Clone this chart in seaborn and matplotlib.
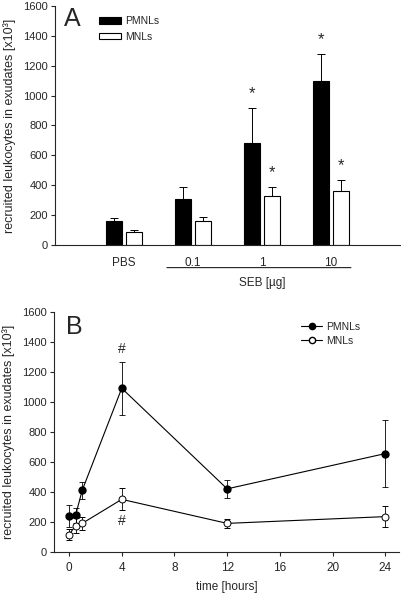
import matplotlib
matplotlib.use("Agg")
import matplotlib.pyplot as plt
import seaborn as sns
import pandas as pd

# panel A: dose response
doses = ["PBS", "0.1", "1", "10"]
pmnl_dose = [160, 310, 685, 1100]
pmnl_dose_err = [20, 75, 230, 178]
mnl_dose = [88, 158, 328, 358]
mnl_dose_err = [12, 30, 60, 75]
star_pmnl = [False, False, True, True]
star_mnl = [False, False, True, True]

# panel B: time course
hours = [0, 0.5, 1, 4, 12, 24]
pmnl_time = [240, 245, 410, 1090, 420, 655]
pmnl_time_err = [73, 50, 55, 178, 60, 222]
mnl_time = [115, 175, 190, 350, 190, 235]
mnl_time_err = [35, 48, 43, 73, 30, 72]

cells = ["PMNLs", "MNLs"]
ylabel = "recruited leukocytes in exudates [x10\u00b3]"

sns.set_style("ticks")
plt.rcParams["font.family"] = ["Liberation Sans", "DejaVu Sans"]
plt.rcParams["axes.linewidth"] = 0.8
plt.rcParams["xtick.major.width"] = 0.8
plt.rcParams["ytick.major.width"] = 0.8
plt.rcParams["xtick.major.size"] = 3
plt.rcParams["ytick.major.size"] = 3

TICK = 8
LEG = 7.5
LAB = 9

fig = plt.figure(figsize=(4.02, 5.96), dpi=100)
ax1 = fig.add_axes([0.137, 0.589, 0.858, 0.401])
ax2 = fig.add_axes([0.134, 0.074, 0.859, 0.403])

# ---- panel A
dose_df = pd.DataFrame({
    "dose": doses * 2,
    "cells": [cells[0]] * 4 + [cells[1]] * 4,
    "value": pmnl_dose + mnl_dose,
})
sns.barplot(data=dose_df, x="dose", y="value", hue="cells", order=doses,
            hue_order=cells, palette=["black", "white"], width=0.6, gap=0.23,
            edgecolor="black", linewidth=0.8, errorbar=None, ax=ax1)

errs = [pmnl_dose_err, mnl_dose_err]
stars = [star_pmnl, star_mnl]
for cont, err, star in zip(ax1.containers, errs, stars):
    for bar, e, s in zip(cont, err, star):
        xc = bar.get_x() + bar.get_width() / 2
        h = bar.get_height()
        ax1.errorbar(xc, h, yerr=[[0], [e]], fmt="none", ecolor="black",
                     elinewidth=0.7, capsize=3, capthick=0.7, zorder=1)
        if s:
            ax1.text(xc, h + e + 45, "*", ha="center", va="bottom",
                     fontsize=12)

ax1.set_xlim(-1, 4)
ax1.set_ylim(0, 1600)
ax1.set_yticks(range(0, 1601, 200))
ax1.tick_params(axis="y", labelsize=TICK, pad=2)
ax1.tick_params(axis="x", length=0, labelsize=8.5, pad=9)
ax1.set_xlabel("")
ax1.set_ylabel(ylabel, fontsize=LAB, labelpad=5)
sns.despine(ax=ax1)
ax1.legend(loc="upper left", bbox_to_anchor=(0.115, 0.975), frameon=False,
           fontsize=LEG, handlelength=2.1, handleheight=0.55, labelspacing=0.55,
           handletextpad=0.45, borderaxespad=0)
ax1.text(0.025, 0.995, "A", transform=ax1.transAxes, fontsize=18,
         va="top", ha="left")
# SEB bracket under the dose groups
ax1.annotate("", xy=(0.58, -0.095), xytext=(3.33, -0.095),
             xycoords=("data", "axes fraction"),
             arrowprops=dict(arrowstyle="-", lw=0.7, color="black"))
ax1.text(2, -0.135, "SEB [\u00b5g]", transform=ax1.get_xaxis_transform(),
         ha="center", va="top", fontsize=8.5)

# ---- panel B
time_df = pd.DataFrame({
    "time": hours * 2,
    "cells": [cells[0]] * 6 + [cells[1]] * 6,
    "value": pmnl_time + mnl_time,
})
sns.lineplot(data=time_df, x="time", y="value", hue="cells", hue_order=cells,
             palette=["black", "black"], linewidth=0.8, errorbar=None,
             legend=False, ax=ax2, zorder=2)
ax2.errorbar(hours, pmnl_time, yerr=pmnl_time_err, fmt="o", color="black",
             mfc="black", mec="black", ms=5, elinewidth=0.6, capsize=2.5,
             capthick=0.6, zorder=3)
ax2.errorbar(hours, mnl_time, yerr=mnl_time_err, fmt="o", color="black",
             mfc="white", mec="black", ms=5, mew=0.7, elinewidth=0.6,
             capsize=2.5, capthick=0.6, zorder=3)
ax2.text(4, pmnl_time[3] + pmnl_time_err[3] + 40, "#", ha="center",
         va="bottom", fontsize=10)
ax2.text(4, mnl_time[3] - mnl_time_err[3] - 25, "#", ha="center",
         va="top", fontsize=10)

ax2.set_xlim(-1.15, 25.05)
ax2.set_ylim(0, 1600)
ax2.set_xticks(range(0, 25, 4))
ax2.set_yticks(range(0, 1601, 200))
ax2.tick_params(labelsize=TICK, pad=2)
ax2.tick_params(axis="x", labelsize=8.5, pad=4)
ax2.set_xlabel("time [hours]", fontsize=8.5, labelpad=5)
ax2.set_ylabel(ylabel, fontsize=LAB, labelpad=5)
sns.despine(ax=ax2)
h1 = plt.Line2D([], [], color="black", lw=0.8, marker="o", ms=4.5,
                mfc="black", mec="black")
h2 = plt.Line2D([], [], color="black", lw=0.8, marker="o", ms=4.5,
                mfc="white", mec="black")
ax2.legend([h1, h2], cells, loc="upper left", bbox_to_anchor=(0.704, 0.975),
           frameon=False, fontsize=LEG, handlelength=2.0, labelspacing=0.35,
           handletextpad=0.4, borderaxespad=0)
ax2.text(0.035, 0.985, "B", transform=ax2.transAxes, fontsize=18,
         va="top", ha="left")

fig.savefig("out.png", dpi=100)
